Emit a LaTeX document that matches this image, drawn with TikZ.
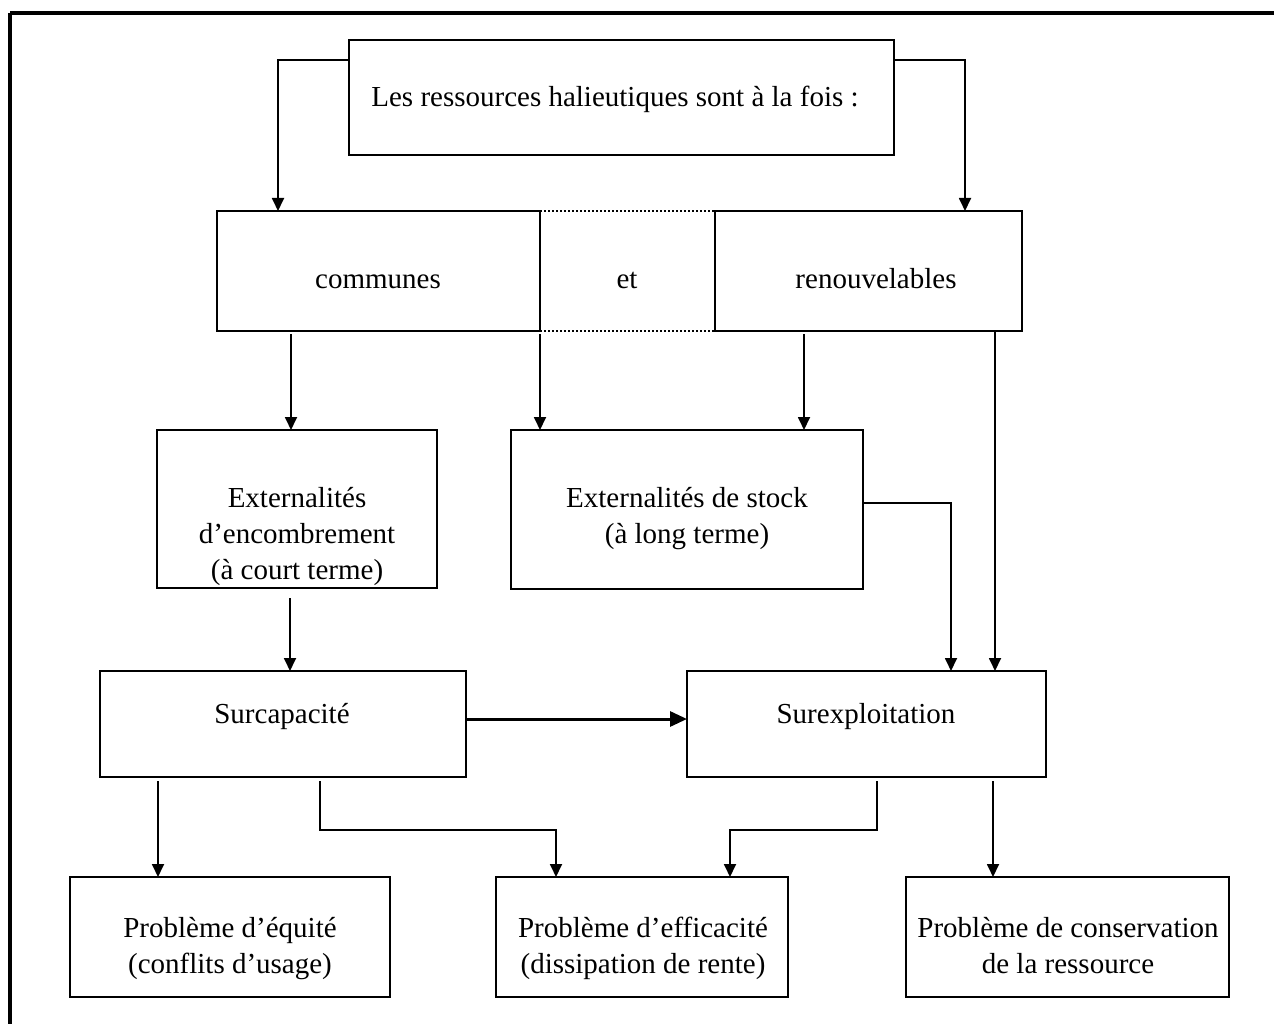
\documentclass[tikz,border=0pt]{standalone}
\usepackage{fontspec}
\setmainfont{Liberation Serif}
\usetikzlibrary{arrows.meta}
\begin{document}
\begin{tikzpicture}[x=1pt,y=-1pt,
  box/.style={draw, line width=2.6pt, anchor=north west, inner sep=0pt, outer sep=0pt},
  txt/.style={anchor=base, inner sep=0pt, font=\fontsize{29}{36}\selectfont},
  arr/.style={draw, line width=1.8pt, -{Triangle[length=13pt,width=12pt]}},
  bigarr/.style={draw, line width=3pt, -{Triangle[length=17pt,width=15pt]}},
  frame/.style={line width=4pt}]
\useasboundingbox (0,0) rectangle (1274,1024);

% outer frame (top and left edges)
\draw[frame] (10,13) -- (1274,13);
\draw[frame] (10,13) -- (10,1024);

% boxes
\node[box, minimum width=545pt, minimum height=115pt] (top) at (349,40) {};
\node[box, minimum width=323pt, minimum height=120pt] (comm) at (217,211) {};
\node[box, minimum width=307pt, minimum height=120pt] (ren) at (715,211) {};
\node[box, minimum width=280pt, minimum height=158pt] (enc) at (157,430) {};
\node[box, minimum width=352pt, minimum height=159pt] (stock) at (511,430) {};
\node[box, minimum width=366pt, minimum height=106pt] (surcap) at (100,671) {};
\node[box, minimum width=359pt, minimum height=106pt] (surex) at (687,671) {};
\node[box, minimum width=320pt, minimum height=120pt] (equ) at (70,877) {};
\node[box, minimum width=292pt, minimum height=120pt] (eff) at (496,877) {};
\node[box, minimum width=323pt, minimum height=120pt] (cons) at (906,877) {};

% dotted link between the two qualities
\draw[dotted, line width=2pt] (comm.north east) -- (ren.north west);
\draw[dotted, line width=2pt] (comm.south east) -- (ren.south west);

% texts, one node per line, placed on their baselines
\node[txt] (topt) at (615,107) {Les ressources halieutiques sont à la fois :};
\node[txt] (commt) at (378,288) {communes};
\node[txt] (et) at (627,288) {et};
\node[txt] (rent) at (876,288) {renouvelables};
\node[txt] (enct1) at (297,507) {Externalités};
\node[txt] (enct2) at (297,543) {d’encombrement};
\node[txt] (enct3) at (297,579) {(à court terme)};
\node[txt] (stockt1) at (687,507) {Externalités de stock};
\node[txt] (stockt2) at (687,543) {(à long terme)};
\node[txt] (surcapt) at (282,723) {Surcapacité};
\node[txt] (surext) at (866,723) {Surexploitation};
\node[txt] (equt1) at (230,937) {Problème d’équité};
\node[txt] (equt2) at (230,973) {(conflits d’usage)};
\node[txt] (efft1) at (643,937) {Problème d’efficacité};
\node[txt] (efft2) at (643,973) {(dissipation de rente)};
\node[txt] (const1) at (1068,937) {Problème de conservation};
\node[txt] (const2) at (1068,973) {de la ressource};

% connector start points
\coordinate (a1) at ([yshift=-20pt]top.north west);
\coordinate (a2) at ([yshift=-20pt]top.north east);
\coordinate (b1) at ([xshift=74pt,yshift=-3pt]comm.south west);
\coordinate (b2) at ([yshift=-3pt]comm.south east);
\coordinate (b3) at ([xshift=89pt,yshift=-3pt]ren.south west);
\coordinate (b4) at ([xshift=280pt]ren.south west);
\coordinate (c2) at ([xshift=133pt,yshift=-10pt]enc.south west);
\coordinate (d1) at ([xshift=58pt,yshift=-4pt]surcap.south west);
\coordinate (d2) at ([xshift=220pt,yshift=-4pt]surcap.south west);
\coordinate (d3) at ([xshift=190pt,yshift=-4pt]surex.south west);
\coordinate (d4) at ([xshift=306pt,yshift=-4pt]surex.south west);

% connectors
\draw[arr] (a1) -| ([xshift=61pt]comm.north west);
\draw[arr] (a2) -| ([xshift=250pt]ren.north west);
\draw[arr] (b1) -- (b1 |- enc.north);
\draw[arr] (b2) -- (b2 |- stock.north);
\draw[arr] (b3) -- (b3 |- stock.north);
\draw[arr] (b4) -- (b4 |- surex.north);
\draw[arr] (stock.east |- 0,503) -| ([xshift=264pt]surex.north west);
\draw[arr] (c2) -- (c2 |- surcap.north);
\draw[bigarr] (surcap.east |- 0,719) -- (surex.west |- 0,719);
\draw[arr] (d1) -- (d1 |- equ.north);
\draw[arr] (d2) -- (d2 |- 0,830) -| ([xshift=60pt]eff.north west);
\draw[arr] (d3) -- (d3 |- 0,830) -| ([xshift=234pt]eff.north west);
\draw[arr] (d4) -- (d4 |- cons.north);
\end{tikzpicture}
\end{document}
